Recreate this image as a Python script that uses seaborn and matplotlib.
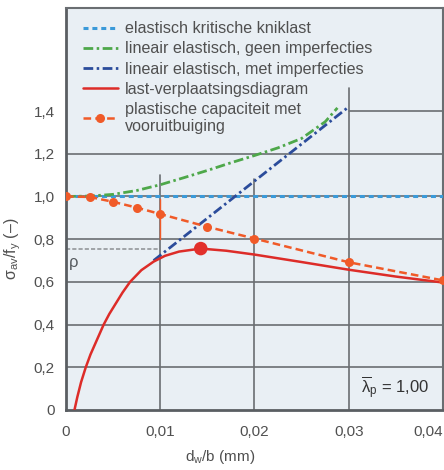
import matplotlib
matplotlib.use("Agg")
import matplotlib.pyplot as plt
import seaborn as sns
import numpy as np

# ---------------- data ----------------
kritiek_x = [0.0, 0.04]
kritiek_y = [1.0, 1.0]

geen_imp_x = [0.0, 0.0025, 0.005, 0.0075, 0.01, 0.0125, 0.015, 0.0175, 0.02, 0.0225, 0.025, 0.0275, 0.0288]
geen_imp_y = [1.0, 1.002, 1.01, 1.028, 1.055, 1.088, 1.122, 1.158, 1.192, 1.228, 1.272, 1.35, 1.415]

met_imp_x = [0.0093, 0.0300]
met_imp_y = [0.700, 1.420]

last_x = [0.0009, 0.0012, 0.0016, 0.0021, 0.0026, 0.0031, 0.0040, 0.0046, 0.0053, 0.0060, 0.0068,
          0.0080, 0.0093, 0.0105, 0.0120, 0.0143, 0.0170, 0.0200, 0.0250, 0.0300, 0.0350, 0.0400]
last_y = [0.0, 0.06, 0.13, 0.20, 0.26, 0.31, 0.40, 0.45, 0.50, 0.55, 0.60,
          0.655, 0.695, 0.722, 0.742, 0.756, 0.746, 0.728, 0.693, 0.657, 0.625, 0.597]

piek_x = [0.0143]
piek_y = [0.756]

plast_x = [0.0, 0.0025, 0.005, 0.0075, 0.01, 0.015, 0.02, 0.03, 0.04]
plast_y = [1.0, 0.998, 0.975, 0.948, 0.918, 0.858, 0.803, 0.692, 0.607]

rho_y = 0.755

x_ticks = [0.0, 0.01, 0.02, 0.03, 0.04]
x_ticklabels = ["0", "0,01", "0,02", "0,03", "0,04"]
y_ticks = [0.0, 0.2, 0.4, 0.6, 0.8, 1.0, 1.2, 1.4]
y_ticklabels = ["0", "0,2", "0,4", "0,6", "0,8", "1,0", "1,2", "1,4"]

labels = ["elastisch kritische kniklast",
          "lineair elastisch, geen imperfecties",
          "lineair elastisch, met imperfecties",
          "last-verplaatsingsdiagram",
          "plastische capaciteit met\nvooruitbuiging"]

# ---------------- style ----------------
sns.set_theme(style="white")
plt.rcParams["font.family"] = ["Liberation Sans", "DejaVu Sans"]
plt.rcParams["mathtext.fontset"] = "custom"
plt.rcParams["mathtext.rm"] = "Liberation Sans"
plt.rcParams["mathtext.it"] = "Liberation Sans:italic"
plt.rcParams["lines.scale_dashes"] = False

C_BLUE = "#3a9ad9"
C_GREEN = "#4ea84a"
C_NAVY = "#2b4c9b"
C_RED = "#dd2c28"
C_ORANGE = "#f05a28"
C_GRID = "#6a6e72"
C_TEXT = "#505050"

fig = plt.figure(figsize=(4.44, 4.70), dpi=100)
ax = fig.add_axes([0.1486, 0.1277, 0.8491, 0.8553])
ax.set_facecolor("#e9eff4")

ax.set_xlim(0, 0.04)
ax.set_ylim(0, 1.883)

# manual partial grid
for yv in [0.2, 0.4, 0.6, 0.8, 1.0, 1.2]:
    ax.plot([0, 0.04], [yv, yv], color=C_GRID, lw=1.2, zorder=1)
ax.plot([0.03, 0.04], [1.4, 1.4], color=C_GRID, lw=1.2, zorder=1)
ax.plot([0.01, 0.01], [0, 1.10], color=C_GRID, lw=1.2, zorder=1)
ax.plot([0.02, 0.02], [0, 1.08], color=C_GRID, lw=1.2, zorder=1)
ax.plot([0.03, 0.03], [0, 1.51], color=C_GRID, lw=1.2, zorder=1)

# rho line
ax.plot([0, 0.0098], [rho_y, rho_y], color="#9a9ea2", lw=1.3,
        linestyle=(0, (3, 1.5)), zorder=2)
# thin orange vertical at 0.01
ax.plot([0.01, 0.01], [0.80, 0.99], color=C_ORANGE, lw=1.0, zorder=2)

sns.lineplot(x=kritiek_x, y=kritiek_y, ax=ax, color=C_BLUE, lw=2.2,
             linestyle=(0, (3.6, 2.8)), label=labels[0], zorder=3)
sns.lineplot(x=geen_imp_x, y=geen_imp_y, ax=ax, color=C_GREEN, lw=2.0,
             linestyle=(0, (7, 2.5, 1.8, 2.5)), label=labels[1], zorder=3)
sns.lineplot(x=met_imp_x, y=met_imp_y, ax=ax, color=C_NAVY, lw=2.0,
             linestyle=(0, (7, 2.5, 1.8, 2.5)), label=labels[2], zorder=3)
sns.lineplot(x=last_x, y=last_y, ax=ax, color=C_RED, lw=1.8, sort=False,
             label=labels[3], zorder=4)
sns.lineplot(x=plast_x, y=plast_y, ax=ax, color=C_ORANGE, lw=1.8,
             linestyle=(0, (5.5, 3)), marker="o", markersize=6.5,
             markeredgewidth=0, label=labels[4], zorder=4)
sns.scatterplot(x=piek_x, y=piek_y, ax=ax, color="#e2302b", s=95,
                edgecolor="none", zorder=5)

# ticks
ax.set_xticks(x_ticks)
ax.set_xticklabels(x_ticklabels)
ax.set_yticks(y_ticks)
ax.set_yticklabels(y_ticklabels)
ax.tick_params(axis="both", length=0, labelsize=11, colors=C_TEXT)
ax.tick_params(axis="x", pad=11)
ax.tick_params(axis="y", pad=8)
ax.get_xticklabels()[-1].set_ha("right")
ax.get_xticklabels()[-1].set_x(0.0399)

for s in ["left", "bottom"]:
    ax.spines[s].set_color("#5a5e62")
    ax.spines[s].set_linewidth(2.0)
for s in ["top", "right"]:
    ax.spines[s].set_color("#6a6e72")
    ax.spines[s].set_linewidth(1.5)

ax.set_xlabel(r"d$_\mathrm{w}$/b (mm)", fontsize=11, color=C_TEXT)
ax.set_ylabel(r"σ$_\mathrm{av}$/f$_\mathrm{y}$ (–)", fontsize=11.5, color=C_TEXT)
ax.xaxis.set_label_coords(0.41, -0.095)
ax.yaxis.set_label_coords(-0.115, 0.40)

ax.text(0.0003, 0.69, "ρ", fontsize=12, color="#555a5e", ha="left", va="center")
ax.text(0.0385, 0.105, r"$\overline{\mathrm{λ}}_\mathrm{p}$ = 1,00", fontsize=12,
        color="#333333", ha="right", va="center")

leg = ax.legend(loc="upper left", bbox_to_anchor=(0.027, 0.983), frameon=False,
                fontsize=11.6, handlelength=2.2, handletextpad=0.45,
                labelspacing=0.32, borderaxespad=0.0)
for t in leg.get_texts():
    t.set_color(C_TEXT)

fig.savefig("out.png", dpi=100)
